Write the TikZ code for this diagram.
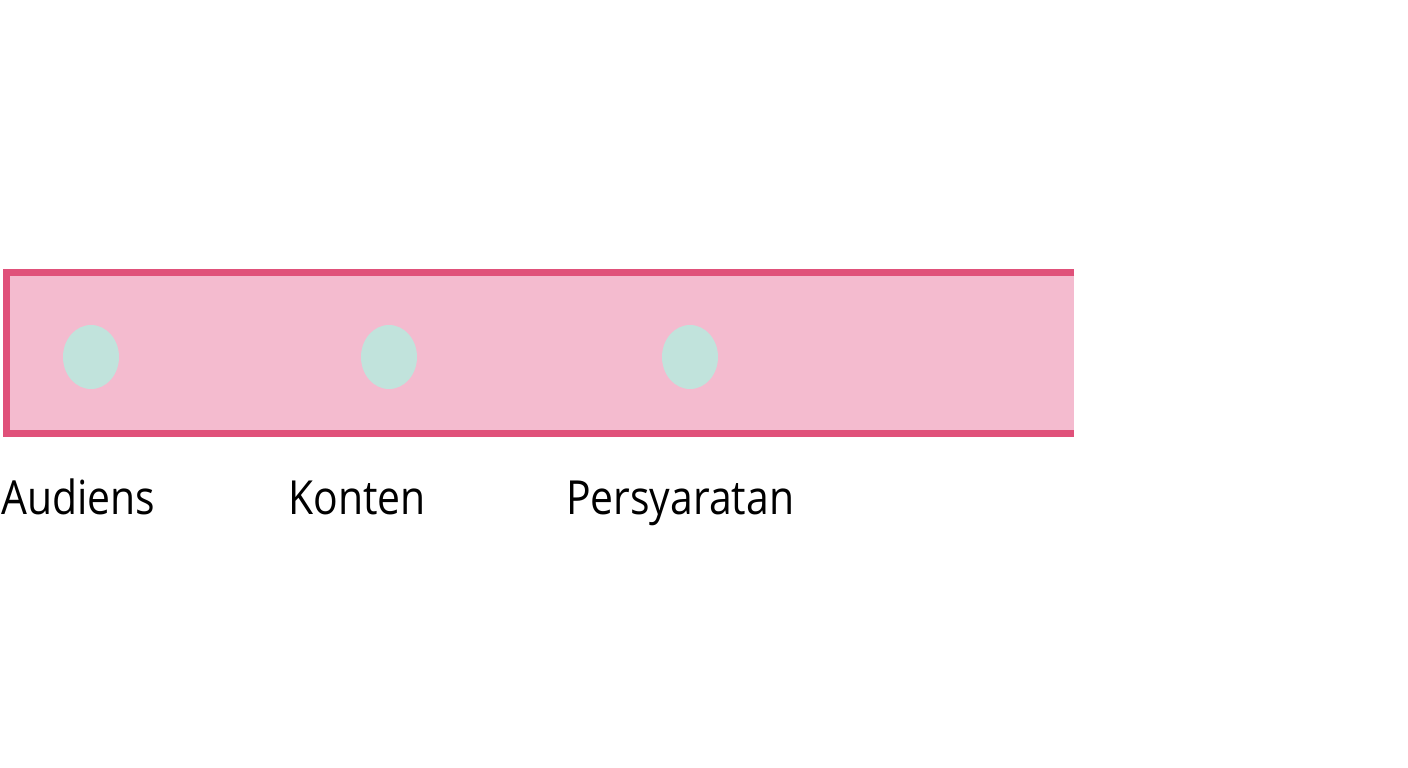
\documentclass[tikz,border=0pt]{standalone}
\usepackage{fontspec}
\setmainfont[FakeStretch=0.87]{Open Sans}
\usetikzlibrary{shapes.geometric}
\definecolor{barfill}{HTML}{F4BBCF}
\definecolor{barline}{HTML}{E0517A}
\definecolor{dotfill}{HTML}{C1E3DC}
\begin{document}
\begin{tikzpicture}[x=1pt, y=-1pt, line join=miter, font=\fontsize{47}{56}\selectfont,
	dot/.style={ellipse, fill=dotfill, minimum width=56pt, minimum height=64pt, inner sep=0pt},
	lbl/.style={anchor=base west, inner sep=0pt, text=black}]
	\useasboundingbox[fill=white] (0,0) rectangle (1408,768);
	\def\xl{3} \def\xr{1074} % bar ends
	\def\yt{269} \def\yb{437}
	\fill[barfill] (\xl,\yt) rectangle (\xr,\yb);
	\draw[barline, line width=7pt] (\xr,\yt+3.5) -- (\xl+3.5,\yt+3.5) -- (\xl+3.5,\yb-3.5) -- (\xr,\yb-3.5);
	\node[dot] (audiens) at (91,357) {};
	\node[dot] (konten) at (389,357) {};
	\node[dot] (persyaratan) at (690,357) {};
	\node[lbl] (laudiens) at (1,514) {Audiens};
	\node[lbl] (lkonten) at (288,514) {Konten};
	\node[lbl] (lpersyaratan) at (566,514) {Persyaratan};
\end{tikzpicture}
\end{document}
